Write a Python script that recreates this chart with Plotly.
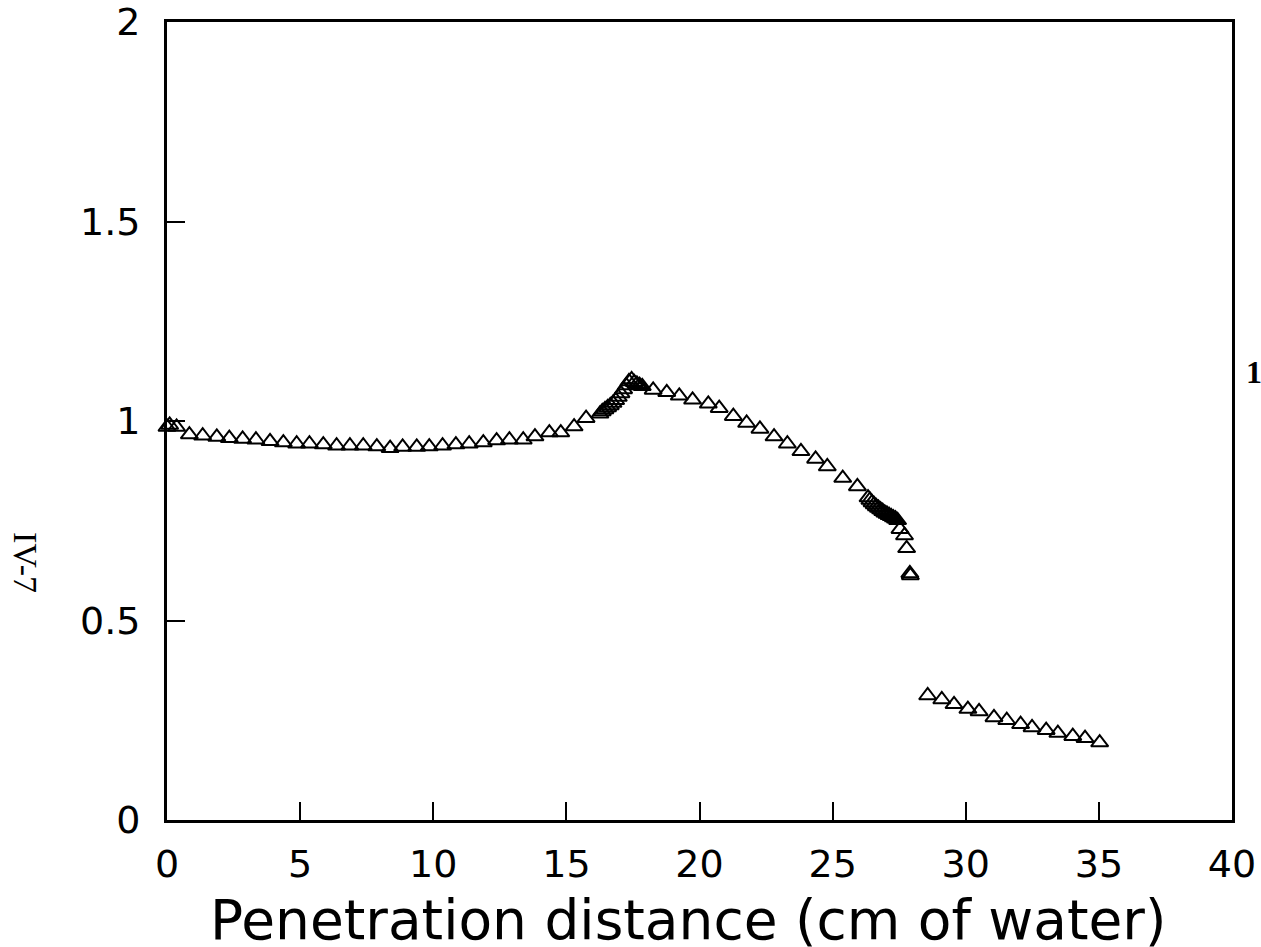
import plotly.graph_objects as go

# Segment 1: slow dip then rise (0 - 16 cm)
x_seg1 = [0.0, 0.1, 0.36, 0.84, 1.34, 1.87, 2.34, 2.84, 3.34, 3.87, 4.37, 4.87,
          5.35, 5.87, 6.37, 6.87, 7.37, 7.88, 8.38, 8.85, 9.38, 9.85, 10.35,
          10.85, 11.35, 11.88, 12.38, 12.86, 13.38, 13.82, 14.36, 14.79, 15.29, 15.74]
y_seg1 = [0.985, 0.99, 0.985, 0.966, 0.963, 0.960, 0.957, 0.955, 0.953, 0.949, 0.946, 0.943,
          0.943, 0.941, 0.938, 0.938, 0.938, 0.936, 0.932, 0.935, 0.935, 0.936, 0.938,
          0.941, 0.943, 0.946, 0.951, 0.953, 0.953, 0.961, 0.971, 0.971, 0.986, 1.007]

# Dense cluster around the peak
x_peak = [16.26, 16.35, 16.45, 16.55, 16.65, 16.75, 16.85, 16.95, 17.05, 17.15,
          17.25, 17.35, 17.45, 17.55, 17.65, 17.75, 17.85]
y_peak = [1.018, 1.024, 1.029, 1.034, 1.039, 1.045, 1.052, 1.060, 1.069, 1.079,
          1.089, 1.099, 1.104, 1.097, 1.093, 1.090, 1.087]

# Falling segment
x_fall = [18.26, 18.77, 19.24, 19.74, 20.33, 20.74, 21.27, 21.77, 22.27, 22.80,
          23.30, 23.81, 24.36, 24.80, 25.38, 25.93]
y_fall = [1.078, 1.072, 1.063, 1.053, 1.043, 1.032, 1.012, 0.995, 0.980, 0.961,
          0.943, 0.924, 0.905, 0.886, 0.857, 0.836]

# Dense cluster near the end of range
x_end = [26.33, 26.40, 26.48, 26.56, 26.64, 26.72, 26.80, 26.88, 26.96, 27.04,
         27.12, 27.20, 27.28, 27.36, 27.44, 27.53, 27.70, 27.78, 27.90, 27.92]
y_end = [0.808, 0.802, 0.796, 0.791, 0.786, 0.782, 0.778, 0.774, 0.770, 0.767,
         0.764, 0.761, 0.758, 0.755, 0.751, 0.729, 0.713, 0.681, 0.618, 0.613]

# Tail beyond the range
x_tail = [28.57, 29.10, 29.56, 30.08, 30.50, 31.06, 31.54, 32.06, 32.49, 33.02,
          33.46, 34.02, 34.48, 35.03]
y_tail = [0.312, 0.302, 0.290, 0.278, 0.272, 0.257, 0.250, 0.240, 0.232, 0.225,
          0.218, 0.210, 0.205, 0.194]

x_ticks = [0, 5, 10, 15, 20, 25, 30, 35, 40]
y_ticks = [0, 0.5, 1, 1.5, 2]
y_tick_labels = ["0", "0.5", "1", "1.5", "2"]

x_all = x_seg1 + x_peak + x_fall + x_end + x_tail
y_all = y_seg1 + y_peak + y_fall + y_end + y_tail

fig = go.Figure()
fig.add_trace(go.Scatter(
    x=x_all, y=y_all, mode="markers", cliponaxis=False,
    marker=dict(symbol="triangle-up-open", size=15, color="black",
                line=dict(width=2, color="black")),
    showlegend=False,
))

font_main = "DejaVu Sans"
fig.update_xaxes(
    range=[0, 40], tickvals=x_ticks, ticktext=[str(v) for v in x_ticks],
    ticks="inside", ticklen=18, tickwidth=1.5, tickcolor="black",
    showline=True, linecolor="black", linewidth=3, mirror=True,
    showgrid=False, zeroline=False,
    tickfont=dict(family=font_main, size=38, color="black"),
    ticklabelstandoff=8,
)
fig.update_yaxes(
    range=[0, 2], tickvals=y_ticks, ticktext=y_tick_labels,
    ticks="inside", ticklen=18, tickwidth=1.5, tickcolor="black",
    showline=True, linecolor="black", linewidth=3, mirror=True,
    showgrid=False, zeroline=False,
    tickfont=dict(family=font_main, size=38, color="black"),
    ticklabelstandoff=16,
)

fig.add_annotation(text="Penetration distance (cm of water)", xref="paper", yref="paper",
                   x=0.489, y=-0.125, xanchor="center", yanchor="middle",
                   showarrow=False,
                   font=dict(family=font_main, size=55, color="black"))
fig.add_annotation(text="IV-7", xref="paper", yref="paper", x=-0.133, y=0.323,
                   xanchor="center", yanchor="middle",
                   showarrow=False, textangle=90,
                   font=dict(family="Liberation Serif", size=34, color="black"))
fig.add_annotation(text="<b>1</b>", xref="paper", yref="paper", x=1.0207, y=0.561,
                   xanchor="center", yanchor="middle",
                   showarrow=False,
                   font=dict(family="Liberation Serif", size=32, color="black"))

fig.update_layout(
    width=1261, height=947,
    margin=dict(l=167, r=29, t=22, b=127, autoexpand=False),
    plot_bgcolor="white", paper_bgcolor="white",
)

fig.write_html("out.html", config={"displayModeBar": False},
               post_script="document.body.style.margin='0';"
                           "document.body.style.overflow='hidden';")
